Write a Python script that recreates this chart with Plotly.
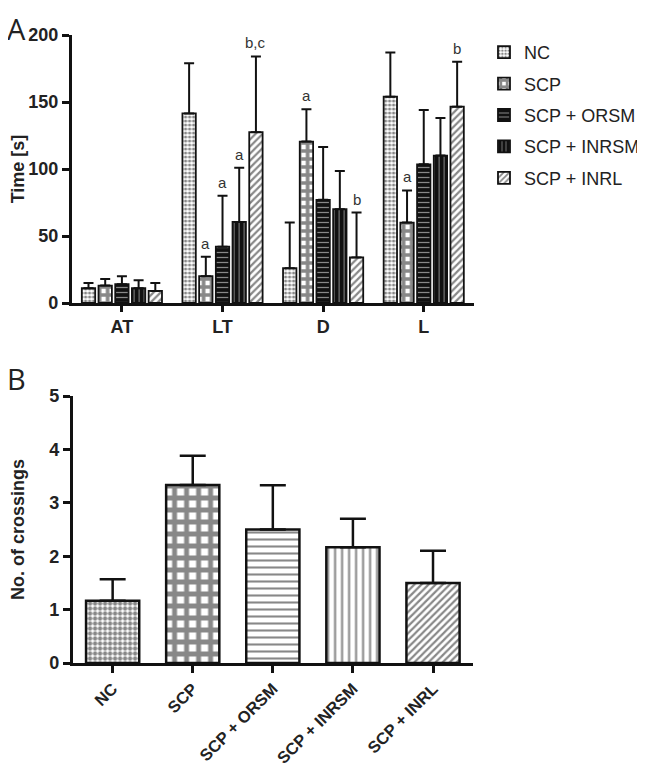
import plotly.graph_objects as go

# ---- Panel A data ----
groups_a = ["AT", "LT", "D", "L"]
series_names = ["NC", "SCP", "SCP + ORSM", "SCP + INRSM", "SCP + INRL"]
vals_a = {
    "NC":          [11, 141.5, 26, 154],
    "SCP":         [13, 20, 120.5, 60],
    "SCP + ORSM":  [14, 42, 77, 103.5],
    "SCP + INRSM": [11, 60.5, 70, 110],
    "SCP + INRL":  [9, 127.5, 34, 146.5],
}
errtop_a = {
    "NC":          [15, 179, 60, 187],
    "SCP":         [18, 34.5, 144.5, 84],
    "SCP + ORSM":  [20, 80, 116.5, 144],
    "SCP + INRSM": [17, 101, 98.5, 138],
    "SCP + INRL":  [15, 184, 67.5, 180],
}
# significance letters: (series, group, text)
sig_a = [
    ("SCP", "LT", "a"), ("SCP + ORSM", "LT", "a"), ("SCP + INRSM", "LT", "a"),
    ("SCP + INRL", "LT", "b,c"), ("SCP", "D", "a"), ("SCP + INRL", "D", "b"),
    ("SCP", "L", "a"), ("SCP + INRL", "L", "b"),
]

# ---- Panel B data ----
cats_b = ["NC", "SCP", "SCP + ORSM", "SCP + INRSM", "SCP + INRL"]
vals_b = [1.167, 3.333, 2.5, 2.167, 1.5]
errtop_b = [1.57, 3.88, 3.33, 2.7, 2.1]

# styles
pat_a = {
    "NC":          dict(shape=".", fgcolor="#111", bgcolor="white", size=4, solidity=0.5),
    "SCP":         dict(shape="+", fgcolor="#111", bgcolor="white", size=8, solidity=0.7),
    "SCP + ORSM":  dict(shape="-", fgcolor="white", bgcolor="#111", size=5, solidity=0.25),
    "SCP + INRSM": dict(shape="|", fgcolor="white", bgcolor="#111", size=5, solidity=0.2),
    "SCP + INRL":  dict(shape="/", fgcolor="#111", bgcolor="white", size=5, solidity=0.45),
}
pat_b = dict(shape=[".", "+", "-", "|", "/"], fgcolor="#111", bgcolor="white",
             size=[5, 12, 7, 7, 5], solidity=[0.6, 0.65, 0.3, 0.3, 0.45])

FONT = "Liberation Sans"
W, H, OFF = 645, 768, 8  # page body margin offsets the figure by 8px
fw, fh = W - OFF, H - OFF

def px_x(p):
    return (p - OFF) / fw

def px_y(p):
    return 1 - (p - OFF) / fh

fig = go.Figure()

for name in series_names:
    v = vals_a[name]
    e = [t - b for t, b in zip(errtop_a[name], v)]
    fig.add_trace(go.Bar(
        x=groups_a, y=v, name=name, xaxis="x", yaxis="y", legendgroup=name,
        marker=dict(color="white", line=dict(color="#111", width=1.8), pattern=pat_a[name]),
        error_y=dict(type="data", symmetric=False, array=e, arrayminus=[0]*len(e),
                     color="#111", thickness=2, width=5),
    ))

e_b = [t - b for t, b in zip(errtop_b, vals_b)]
fig.add_trace(go.Bar(
    x=cats_b, y=vals_b, xaxis="x2", yaxis="y2", showlegend=False,
    marker=dict(color="white", line=dict(color="#111", width=2.5), pattern=pat_b),
    error_y=dict(type="data", symmetric=False, array=e_b, arrayminus=[0]*5,
                 color="#111", thickness=2.5, width=13),
))

bargap_a = 0.17
slot = (1 - bargap_a) / len(series_names)
annotations = []
for s, g, t in sig_a:
    i = series_names.index(s)
    gi = groups_a.index(g)
    top = errtop_a[s][gi]
    annotations.append(dict(
        x=gi + (i - 2) * slot, y=top, xref="x", yref="y", text=t, showarrow=False,
        yanchor="bottom", yshift=3, font=dict(family=FONT, size=15, color="#333")))

annotations += [
    dict(x=0.0, y=1.0, xref="paper", yref="paper", text="A", showarrow=False,
         xanchor="left", yanchor="top", xshift=-3, yshift=1,
         font=dict(family="Open Sans", size=29, color="#222")),
    dict(x=0.0, y=px_y(357), xref="paper", yref="paper", text="B", showarrow=False,
         xanchor="left", yanchor="top", xshift=-3,
         font=dict(family="Open Sans", size=29, color="#222")),
]

bold_tick = dict(family=FONT, size=18, color="#222", weight="bold")
axis_common = dict(showline=True, linecolor="#111", linewidth=2.5, ticks="outside",
                   tickwidth=2.5, tickcolor="#111", showgrid=False, zeroline=False,
                   automargin=False)

fig.update_layout(
    width=fw, height=fh, margin=dict(l=0, r=0, t=0, b=0),
    plot_bgcolor="white", paper_bgcolor="white",
    barmode="group", bargap=bargap_a, bargroupgap=0.2,
    xaxis=dict(domain=[px_x(72), px_x(477)], anchor="y", ticklen=6, tickfont=bold_tick,
               range=[-0.5, 3.5], **axis_common),
    yaxis=dict(domain=[px_y(303), px_y(35)], anchor="x", range=[0, 200],
               tickvals=[0, 50, 100, 150, 200], ticklen=7, tickfont=bold_tick,
               title=dict(text="Time [s]", font=dict(family=FONT, size=18, color="#222", weight="bold"), standoff=10),
               **axis_common),
    xaxis2=dict(domain=[px_x(73), px_x(476)], anchor="y2", ticklen=7, tickangle=-45,
                range=[-0.5, 4.5], tickfont=dict(family=FONT, size=16.5, color="#222", weight="bold"),
                **axis_common),
    yaxis2=dict(domain=[px_y(663), px_y(396)], anchor="x2", range=[0, 5],
                tickvals=[0, 1, 2, 3, 4, 5], ticklen=7, tickfont=bold_tick,
                title=dict(text="No. of crossings", font=dict(family=FONT, size=18, color="#222", weight="bold"), standoff=27),
                **axis_common),
    legend=dict(x=px_x(487), y=px_y(34), xanchor="left", yanchor="top", itemwidth=30,
                font=dict(family=FONT, size=18, color="#222"), tracegroupgap=5,
                bgcolor="rgba(0,0,0,0)"),
    annotations=annotations,
)

fig.write_html("out.html")
